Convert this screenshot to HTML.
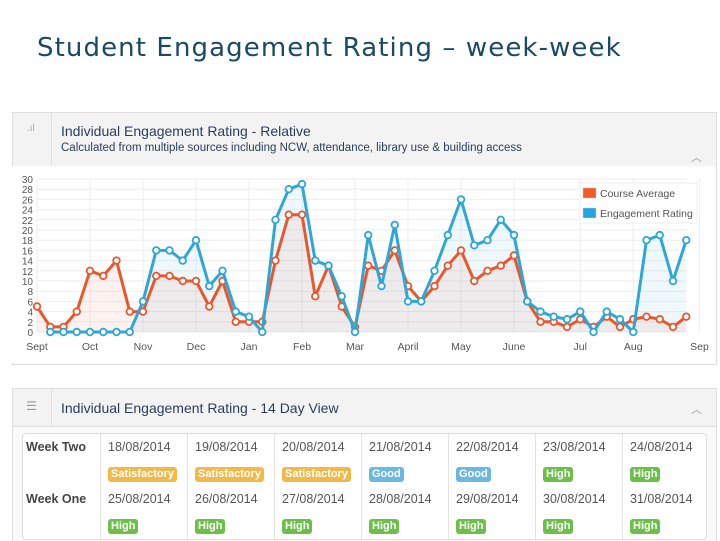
<!DOCTYPE html>
<html><head><meta charset="utf-8">
<style>
body{margin:0;width:720px;height:540px;background:#fff;overflow:hidden;position:relative;font-family:"Liberation Sans",sans-serif}
.abs{position:absolute}
#title{left:37px;top:33px;font-family:"DejaVu Sans",sans-serif;font-size:26px;letter-spacing:1.1px;color:#1b4a64;white-space:nowrap}
.panel{position:absolute;left:12px;width:703px;border:1px solid #dedede;background:#fafafa}
.hdr{position:absolute;left:0;top:0;right:0;background:#f3f3f3;border-bottom:1px solid #e0e0e0}
.icocol{position:absolute;left:0;top:0;bottom:0;width:38px;border-right:1px solid #e0e0e0}
.htitle{position:absolute;left:48px;font-size:14px;color:#2a3e5a;white-space:nowrap}
.hsub{position:absolute;left:48px;font-size:11.5px;color:#2a3e5a;white-space:nowrap}
.chev{position:absolute;right:14px;font-size:11px;color:#999}
.tbl{position:absolute;left:22px;top:433px;width:683px;height:105px;border:1px solid #ddd;border-radius:4px;background:#fff}
.cell{position:absolute;font-size:12.5px;color:#555;white-space:nowrap}
.wk{font-weight:bold;color:#444}
.badge{position:absolute;font-size:11px;font-weight:bold;color:#fff;padding:1px 3px;border-radius:3px;line-height:13px}
.sat{background:#f0b94a}.good{background:#6cb8e0}.high{background:#6cc04a}
.vl{position:absolute;top:0;bottom:0;width:1px;background:#e4e4e4}
</style></head><body>
<div id="title" class="abs">Student Engagement Rating – week-week</div>

<div class="panel" style="top:112px;height:251px">
 <div class="hdr" style="height:53px">
  <div class="icocol"><span style="position:absolute;left:14px;top:10px;font-size:10px;color:#aaa">.ıl</span></div>
  <div class="htitle" style="top:10px">Individual Engagement Rating - Relative</div>
  <div class="hsub" style="top:29px">Calculated from multiple sources including NCW, attendance, library use &amp; building access</div>
  <div class="chev" style="top:36px">︿</div>
 </div>
</div>

<svg class="abs" style="left:0;top:0" width="720" height="540" id="chart"></svg>

<div class="panel" style="top:388px;height:152px;border-bottom:none">
 <div class="hdr" style="height:37px">
  <div class="icocol"><span style="position:absolute;left:13px;top:10px;font-size:12px;color:#999">☰</span></div>
  <div class="htitle" style="top:11px">Individual Engagement Rating - 14 Day View</div>
  <div class="chev" style="top:12px">︿</div>
 </div>
</div>
<div class="tbl" id="tbl"></div>

<script>
const categories=['Sept','Oct','Nov','Dec','Jan','Feb','Mar','April','May','June','Jul','Aug','Sep'];
const categoryIndex=[0,4,8,12,16,20,24,28,32,36,41,45,50];
const yTicks=[0,2,4,6,8,10,12,14,16,18,20,22,24,26,28,30];
const courseAverage=[5,1,1,4,12,11,14,4,4,11,11,10,10,5,10,2,2,2,14,23,23,7,13,5,1,13,12,16,9,6,9,13,16,10,12,13,15,6,2,2,1,2.5,1,3,1,2.5,3,2.5,1,3];
const engagementRating=[null,0,0,0,0,0,0,0,6,16,16,14,18,9,12,4,3,0,22,28,29,14,13,7,0,19,9,21,6,6,12,19,26,17,18,22,19,6,4,3,2.5,4,0,4,2.5,0,18,19,10,18];
const svg=document.getElementById('chart');const NS='http://www.w3.org/2000/svg';
const x0=37,dx=13.25,y0=332,yMax=30,yPx=153;
const X=i=>x0+i*dx, Y=v=>y0-v/yMax*yPx;
function el(t,a){const e=document.createElementNS(NS,t);for(const k in a)e.setAttribute(k,a[k]);svg.appendChild(e);return e;}
const bg=el('rect',{x:12,y:166,width:703,height:197,fill:'#fff'});


yTicks.forEach(v=>{
 const l=el('line',{x1:x0,x2:X(49),y1:Y(v),y2:Y(v),stroke:'#eee','stroke-width':1});
 
 
 const t=el('text',{x:33,y:Y(v)+4,'text-anchor':'end','font-size':10,fill:'#555','font-family':'Liberation Sans'});
 t.textContent=v;
 
 
});
categories.forEach((c,i)=>{
 const xx=X(categoryIndex[i]);
 const l=el('line',{x1:xx,x2:xx,y1:Y(30),y2:y0,stroke:'#eee','stroke-width':1});
 
 
 const t=el('text',{x:xx,y:350,'text-anchor':'middle','font-size':10.5,fill:'#555','font-family':'Liberation Sans'});
 t.textContent=c;
 
 
});
function series(arr,color,fill,name){
 const pts=[];arr.forEach((v,i)=>{if(v!==null)pts.push([X(i),Y(v)]);});
 const area=el('path',{d:'M'+pts[0][0]+','+y0+pts.map(p=>'L'+p[0]+','+p[1]).join('')+'L'+pts[pts.length-1][0]+','+y0+'Z',fill:fill});
 
 
 return pts;
}
function draw(pts,color,name){
 const ln=el('path',{d:'M'+pts.map(p=>p[0]+','+p[1]).join('L'),fill:'none',stroke:color,'stroke-width':3,'stroke-linejoin':'round'});
 
 
 pts.forEach(p=>{const c=el('circle',{cx:p[0],cy:p[1],r:3.3,fill:'#fff',stroke:color,'stroke-width':1.8});
  
  });
}
const pb=series(engagementRating,'#2ea6d8','rgba(46,166,216,0.08)','engagement-rating');
const po=series(courseAverage,'#e8582e','rgba(232,88,46,0.08)','course-average');
draw(po,'#e8582e','course-average');
draw(pb,'#2ea6d8','engagement-rating');
const lg=el('rect',{x:580,y:183,width:117,height:40,fill:'#fff',stroke:'#eee'});


[['Course Average','#f05a28',193],['Engagement Rating','#27a4e0',213]].forEach(e=>{
 const r=el('rect',{x:583,y:e[2]-5,width:13,height:10,fill:e[1],stroke:'#ccc','stroke-width':0.5});
 
 
 const t=el('text',{x:600,y:e[2]+4,'font-size':10.5,fill:'#555','font-family':'Liberation Sans'});
 t.textContent=e[0];
 
 
});
const weeks=[['Week Two',['18/08/2014','19/08/2014','20/08/2014','21/08/2014','22/08/2014','23/08/2014','24/08/2014'],['Satisfactory','Satisfactory','Satisfactory','Good','Good','High','High']],
 ['Week One',['25/08/2014','26/08/2014','27/08/2014','28/08/2014','29/08/2014','30/08/2014','31/08/2014'],['High','High','High','High','High','High','High']]];
const tbl=document.getElementById('tbl');let h='';
for(let c=0;c<7;c++)h+='<div class="vl" style="left:'+(77+c*87)+'px"></div>';
weeks.forEach((w,r)=>{
 const ty=6+r*52;
 h+='<div class="cell wk" style="left:3px;top:'+ty+'px">'+w[0]+'</div>';
 w[1].forEach((d,c)=>{
  const cls=w[2][c]==='Satisfactory'?'sat':w[2][c]==='Good'?'good':'high';
  h+='<div class="cell" style="left:'+(85+c*87)+'px;top:'+ty+'px">'+d+'</div>';
  h+='<div class="badge '+cls+'" style="left:'+(85+c*87)+'px;top:'+(ty+27)+'px">'+w[2][c]+'</div>';
 });
});
tbl.innerHTML=h;
</script>
</body></html>
